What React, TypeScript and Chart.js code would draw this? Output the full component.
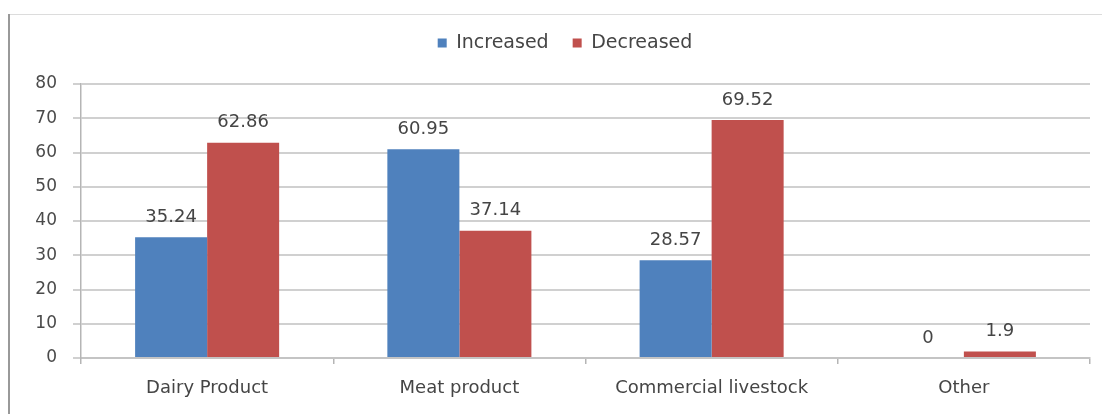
import { useEffect, useRef } from "react";
import { Chart, registerables } from "chart.js";

Chart.register(...registerables);

// Share of respondents (%) reporting a change per product type
const categories = ["Dairy Product", "Meat product", "Commercial livestock", "Other"];
const seriesNames = ["Increased", "Decreased"];
const increased = [35.24, 60.95, 28.57, 0];
const decreased = [62.86, 37.14, 69.52, 1.9];
const yTickValues = [0, 10, 20, 30, 40, 50, 60, 70, 80];

const FONT = "'DejaVu Sans', sans-serif";
const TEXT = "#454545";
const BLUE = "#4f81bd";
const RED = "#c0504d";

// Writes each bar's value just above it
const valueLabels = {
  id: "valueLabels",
  afterDatasetsDraw(chart: any) {
    const ctx = chart.ctx;
    ctx.save();
    ctx.font = `18px ${FONT}`;
    ctx.fillStyle = TEXT;
    ctx.textAlign = "center";
    ctx.textBaseline = "middle";
    chart.data.datasets.forEach((ds: any, i: number) => {
      chart.getDatasetMeta(i).data.forEach((bar: any, j: number) => {
        ctx.fillText(String(ds.data[j]), bar.x, bar.y - 20);
      });
    });
    ctx.restore();
  },
};

// Gives the legend block extra room so the plot starts lower,
// and nudges the legend row a little to the right
const legendSpace = {
  id: "legendSpace",
  beforeInit(chart: any) {
    const legend = chart.legend;
    if (!legend) return;
    const fit = legend.fit;
    legend.fit = function () {
      fit.call(this);
      this.height += 21.5;
    };
  },
  afterLayout(chart: any) {
    const legend = chart.legend;
    if (!legend) return;
    legend.left += 20;
    legend.right += 20;
  },
};

export default function App() {
  const canvasRef = useRef<HTMLCanvasElement | null>(null);

  useEffect(() => {
    document.body.style.margin = "0";
    const canvas = canvasRef.current;
    if (!canvas) return;
    const chart = new Chart(canvas, {
      type: "bar",
      data: {
        labels: categories,
        datasets: [
          { label: seriesNames[0], data: increased, backgroundColor: BLUE, borderWidth: 0 },
          { label: seriesNames[1], data: decreased, backgroundColor: RED, borderWidth: 0 },
        ],
      },
      options: {
        responsive: false,
        animation: false,
        layout: { padding: { top: 9.5, right: 12, bottom: 0, left: 0 } },
        datasets: { bar: { categoryPercentage: 0.571, barPercentage: 1 } },
        plugins: {
          legend: {
            position: "top",
            align: "center",
            labels: {
              boxWidth: 9,
              boxHeight: 9,
              padding: 24,
              color: TEXT,
              font: { family: FONT, size: 19 },
            },
          },
          tooltip: { enabled: false },
        },
        scales: {
          x: {
            offset: true,
            afterFit(scale: any) {
              scale.height = 56;
            },
            grid: {
              display: true,
              drawOnChartArea: false,
              drawTicks: true,
              tickLength: 6,
              color: "#b5b5b5",
              lineWidth: 1.5,
              offset: true,
            },
            border: { display: true, color: "#c4c4c4", width: 2 },
            ticks: { color: TEXT, padding: 14, font: { family: FONT, size: 18 } },
          },
          y: {
            min: 0,
            max: 80,
            afterFit(scale: any) {
              scale.width = 81;
            },
            afterBuildTicks(scale: any) {
              scale.ticks = yTickValues.map((v) => ({ value: v }));
            },
            grid: {
              color: "#d0d0d0",
              lineWidth: 2,
              drawTicks: true,
              tickLength: 8,
            },
            border: { display: true, color: "#b5b5b5", width: 1.5 },
            ticks: { color: "#4a4a4a", padding: 16, font: { family: FONT, size: 17 } },
          },
        },
      },
      plugins: [valueLabels, legendSpace],
    });
    return () => chart.destroy();
  }, []);

  return (
    <div style={{ position: "relative", width: 1102, height: 414, background: "#ffffff" }}>
      <canvas ref={canvasRef} width={1102} height={414} style={{ display: "block" }} />
      <div style={{ position: "absolute", left: 8, top: 14, width: 1094, height: 1, background: "#dcdcdc" }} />
      <div style={{ position: "absolute", left: 8, top: 14, width: 2, height: 400, background: "#999999" }} />
    </div>
  );
}
